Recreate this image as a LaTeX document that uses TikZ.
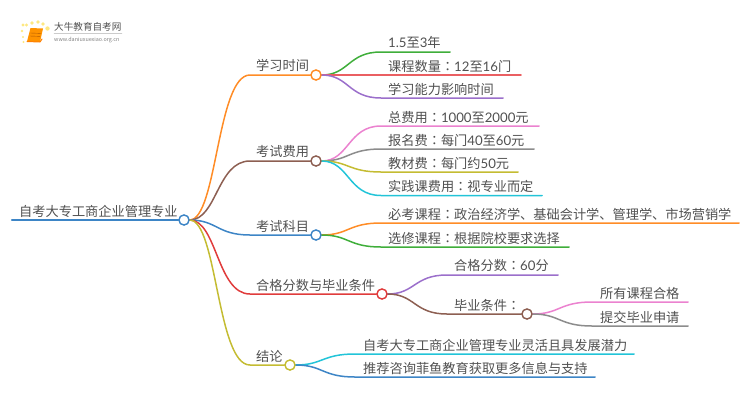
\documentclass[tikz,border=0pt]{standalone}
\usepackage{fontspec}
\setmainfont{Noto Sans CJK SC}
\newfontfamily\colonfont{Noto Sans CJK TC}
\newfontfamily\digfont{Lato}
\newcommand{\cln}{{\colonfont ：}}
\newcommand{\dg}[1]{{\digfont #1}}
\definecolor{cblue}{HTML}{3D85C6}
\definecolor{corange}{HTML}{FF8C26}
\definecolor{cbrown}{HTML}{8D5F52}
\definecolor{cred}{HTML}{E03C3C}
\definecolor{colive}{HTML}{C4BC32}
\definecolor{cgreen}{HTML}{3FAE3A}
\definecolor{crose}{HTML}{EA5F62}
\definecolor{cpurple}{HTML}{9B6FCB}
\definecolor{cpink}{HTML}{EB82CF}
\definecolor{cgray}{HTML}{8C8C8C}
\definecolor{ccyan}{HTML}{22C4D8}
\definecolor{ctext}{HTML}{505050}
\tikzset{
	lbl/.style={anchor=base west,inner sep=0pt,text=ctext,font=\fontsize{13.2}{14}\selectfont},
	dot/.style={circle,draw=#1,fill=white,line width=1.3pt,minimum size=10pt,inner sep=0pt},
	wire/.style={draw=#1,line width=1.5pt}
}
\begin{document}
\begin{tikzpicture}[x=1pt,y=-1pt,line join=round,line cap=round]
	\useasboundingbox (0,0) rectangle (750,410);
	\def \bb{33}
	% logo
	\fill[yellow!70!orange,opacity=.5] (23,25) circle (1.6) (26.5,25) circle (1.6) (32,23) circle (1.9) (38,22) circle (1.9) (43,24) circle (1.9) (47.5,28.5) circle (2.2) (22,31) circle (1.3) (23,37) circle (1.2) (23.5,42) circle (1.1);
	\fill[orange!85!yellow] (30.5,28) -- (43,28.5) -- (40,42) -- (27,41.5) -- cycle;
	\draw[orange!70!black,line width=.4pt] (30.5,33) -- (40.5,33.4) (30,36) -- (40,36.4);
	\draw[orange,line width=1pt] (27,41.5) -- (40,42) -- (42,39);
	\node[anchor=base west,inner sep=0pt,text=ctext,font=\fontsize{9.6}{10}\selectfont] (logoA) at (54,30.5) {大牛教育自考网};
	\node[anchor=base west,inner sep=0pt,text=gray,font=\fontsize{5.4}{6}\selectfont] (logoB) at (54,41) {www.daniuxuexiao.org.cn};
	\draw[gray!40,line width=.4pt] (54,33.5) -- (122,33.5);
	% main nodes
	\coordinate (R0) at (12,220);
	\node[dot=cblue] (R) at (184,220) {};
	\node[dot=corange] (A) at (316,75) {};
	\node[dot=cbrown] (B) at (316,161) {};
	\node[dot=cblue] (C) at (316,235) {};
	\node[dot=cred] (D) at (382,294) {};
	\node[dot=colive] (E) at (290,365) {};
	\node[dot=cbrown] (F) at (527,314) {};
	\coordinate (Ab) at (250,75); \coordinate (Bb) at (250,161); \coordinate (Cb) at (250,235);
	\coordinate (Db) at (250,294); \coordinate (Eb) at (250,365); \coordinate (Fb) at (447,314);
	% ends of the leaves
	\coordinate (a1) at (381,52); \coordinate (a1e) at (450,52);
	\coordinate (a2) at (381,75); \coordinate (a2e) at (521,75);
	\coordinate (a3) at (381,98); \coordinate (a3e) at (503,98);
	\coordinate (b1) at (381,126); \coordinate (b1e) at (539,126);
	\coordinate (b2) at (381,149); \coordinate (b2e) at (534,149);
	\coordinate (b3) at (381,172); \coordinate (b3e) at (518,172);
	\coordinate (b4) at (381,195.5); \coordinate (b4e) at (542,195.5);
	\coordinate (c1) at (381,223); \coordinate (c1e) at (739,223);
	\coordinate (c2) at (381,247); \coordinate (c2e) at (569,247);
	\coordinate (d1) at (447,275); \coordinate (d1e) at (558,275);
	\coordinate (e1) at (355,354); \coordinate (e1e) at (634,354);
	\coordinate (e2) at (355,377); \coordinate (e2e) at (595,377);
	\coordinate (f1) at (592,302); \coordinate (f1e) at (688,302);
	\coordinate (f2) at (592,326); \coordinate (f2e) at (688,326);
	% root and first level
	\draw[wire=cblue,line width=2.4pt] (R0) -- (R);
	\draw[wire=corange] (R) .. controls +(\bb,0) and +(-\bb,0) .. (Ab) -- (A);
	\draw[wire=cbrown] (R) .. controls +(\bb,0) and +(-\bb,0) .. (Bb) -- (B);
	\draw[wire=cblue] (R) .. controls +(\bb,0) and +(-\bb,0) .. (Cb) -- (C);
	\draw[wire=cred] (R) .. controls +(\bb,0) and +(-\bb,0) .. (Db) -- (D);
	\draw[wire=colive] (R) .. controls +(\bb,0) and +(-\bb,0) .. (Eb) -- (E);
	% leaves
	\draw[wire=cgreen] (A) .. controls +(\bb,0) and +(-\bb,0) .. (a1) -- (a1e);
	\draw[wire=crose] (A) -- (a2) -- (a2e);
	\draw[wire=cpurple] (A) .. controls +(\bb,0) and +(-\bb,0) .. (a3) -- (a3e);
	\draw[wire=cpink] (B) .. controls +(\bb,0) and +(-\bb,0) .. (b1) -- (b1e);
	\draw[wire=cgray] (B) .. controls +(\bb,0) and +(-\bb,0) .. (b2) -- (b2e);
	\draw[wire=colive] (B) .. controls +(\bb,0) and +(-\bb,0) .. (b3) -- (b3e);
	\draw[wire=ccyan] (B) .. controls +(\bb,0) and +(-\bb,0) .. (b4) -- (b4e);
	\draw[wire=corange] (C) .. controls +(\bb,0) and +(-\bb,0) .. (c1) -- (c1e);
	\draw[wire=cgreen] (C) .. controls +(\bb,0) and +(-\bb,0) .. (c2) -- (c2e);
	\draw[wire=cpurple] (D) .. controls +(\bb,0) and +(-\bb,0) .. (d1) -- (d1e);
	\draw[wire=cbrown] (D) .. controls +(\bb,0) and +(-\bb,0) .. (Fb) -- (F);
	\draw[wire=ccyan] (E) .. controls +(\bb,0) and +(-\bb,0) .. (e1) -- (e1e);
	\draw[wire=cblue] (E) .. controls +(\bb,0) and +(-\bb,0) .. (e2) -- (e2e);
	\draw[wire=cpink] (F) .. controls +(\bb,0) and +(-\bb,0) .. (f1) -- (f1e);
	\draw[wire=cgray] (F) .. controls +(\bb,0) and +(-\bb,0) .. (f2) -- (f2e);
	% circles again, over the wires
	\node[dot=cblue] at (R) {}; \node[dot=corange] at (A) {}; \node[dot=cbrown] at (B) {};
	\node[dot=cblue] at (C) {}; \node[dot=cred] at (D) {}; \node[dot=colive] at (E) {};
	\node[dot=cbrown] at (F) {};
	% labels
	\node[lbl] (tR) at (19,216.5) {自考大专工商企业管理专业};
	\node[lbl] (tA) at (256,70.5) {学习时间};
	\node[lbl] (tB) at (256,156.5) {考试费用};
	\node[lbl] (tC) at (256,231.5) {考试科目};
	\node[lbl] (tD) at (256,290.5) {合格分数与毕业条件};
	\node[lbl] (tE) at (256,361) {结论};
	\node[lbl] (ta1) at (388,47.5) {\dg{1.5}至\dg{3}年};
	\node[lbl] (ta2) at (388,71.5) {课程数量\cln\dg{12}至\dg{16}门};
	\node[lbl] (ta3) at (388,94) {学习能力影响时间};
	\node[lbl] (tb1) at (388,122) {总费用\cln\dg{1000}至\dg{2000}元};
	\node[lbl] (tb2) at (388,145.5) {报名费\cln 每门\dg{40}至\dg{60}元};
	\node[lbl] (tb3) at (388,168) {教材费\cln 每门约\dg{50}元};
	\node[lbl] (tb4) at (388,191.5) {实践课费用\cln 视专业而定};
	\node[lbl] (tc1) at (388,219) {必考课程\cln 政治经济学、基础会计学、管理学、市场营销学};
	\node[lbl] (tc2) at (388,243) {选修课程\cln 根据院校要求选择};
	\node[lbl] (td1) at (454,270.5) {合格分数\cln\dg{60}分};
	\node[lbl] (td2) at (454,310) {毕业条件\cln};
	\node[lbl] (tf1) at (600,298) {所有课程合格};
	\node[lbl] (tf2) at (600,322) {提交毕业申请};
	\node[lbl] (te1) at (363,350) {自考大专工商企业管理专业灵活且具发展潜力};
	\node[lbl] (te2) at (363,373) {推荐咨询菲鱼教育获取更多信息与支持};
\end{tikzpicture}
\end{document}
